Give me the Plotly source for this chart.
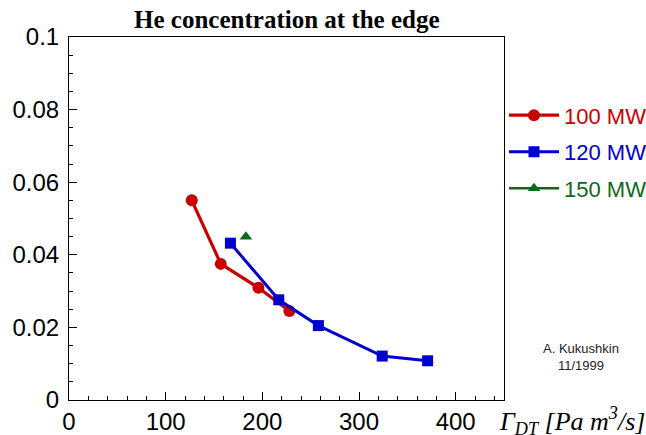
import plotly.graph_objects as go

# Data
x_100 = [127, 157, 196, 228]
y_100 = [0.0550, 0.0375, 0.0309, 0.0245]

x_120 = [167, 217, 258, 324, 371]
y_120 = [0.0432, 0.0276, 0.0205, 0.0121, 0.0108]

x_150 = [183]
y_150 = [0.0450]

series_names = ["100 MW", "120 MW", "150 MW"]
red = "#c80000"
blue = "#0000cc"
green = "#0a6a1a"

fig = go.Figure()
fig.add_trace(go.Scatter(
    x=x_100, y=y_100, mode="lines+markers",
    name=f"<span style='color:{red}'>{series_names[0]}</span>",
    legendgroup="a",
    line=dict(color=red, width=3.2),
    marker=dict(symbol="circle", size=12, color=red),
))
fig.add_trace(go.Scatter(
    x=x_120, y=y_120, mode="lines+markers",
    name=f"<span style='color:{blue}'>{series_names[1]}</span>",
    legendgroup="b",
    line=dict(color=blue, width=3),
    marker=dict(symbol="square", size=11, color=blue),
))
fig.add_trace(go.Scatter(
    x=x_150, y=y_150, mode="lines+markers",
    name=f"<span style='color:{green}'>{series_names[2]}</span>",
    legendgroup="c",
    line=dict(color=green, width=2.5),
    marker=dict(symbol="triangle-up", size=11, color=green),
))

tick_font = dict(family="Liberation Sans, Arial, Helvetica", size=24, color="black")

fig.update_layout(
    width=646, height=435,
    margin=dict(l=69, r=142, t=37, b=35, autoexpand=False),
    paper_bgcolor="white", plot_bgcolor="white",
    title=dict(
        text="<b>He concentration at the edge</b>",
        font=dict(family="Liberation Serif, Times New Roman, serif", size=25, color="black"),
        x=0.444, xanchor="center", y=0.955, yanchor="middle",
    ),
    showlegend=True,
    legend=dict(
        x=1.0, xanchor="left", y=0.842, yanchor="top",
        font=dict(family="Liberation Sans, Arial, Helvetica", size=22),
        bgcolor="rgba(0,0,0,0)",
        tracegroupgap=5,
        itemwidth=50,
    ),
    xaxis=dict(
        range=[0, 450],
        tickvals=[0, 100, 200, 300, 400],
        ticks="inside", ticklen=8, tickwidth=1, tickcolor="black",
        minor=dict(dtick=20, tick0=0, ticks="inside", ticklen=4, tickcolor="black"),
        showline=True, linecolor="black", linewidth=1, mirror=True,
        showgrid=False, zeroline=False, automargin=False,
        tickfont=tick_font,
    ),
    yaxis=dict(
        range=[0, 0.1], dtick=0.02, tick0=0,
        ticks="inside", ticklen=8, tickwidth=1, tickcolor="black",
        minor=dict(dtick=0.005, tick0=0, ticks="inside", ticklen=4, tickcolor="black"),
        showline=True, linecolor="black", linewidth=1, mirror=True,
        showgrid=False, zeroline=False, automargin=False,
        tickfont=tick_font,
        ticklabelstandoff=4,
    ),
    annotations=[
        dict(
            text="<i>Γ<sub>DT</sub> [Pa m<sup>3</sup>/s]</i>",
            xref="paper", yref="paper", x=1.0, y=0.0,
            xanchor="left", yanchor="top", xshift=-7, yshift=-1,
            showarrow=False,
            font=dict(family="Liberation Serif, Times New Roman, serif", size=26, color="black"),
        ),
        dict(
            text="A. Kukushkin<br>11/1999",
            xref="paper", yref="paper", x=1.0, y=(400 - 356.5) / 363,
            xanchor="center", yanchor="middle", xshift=77,
            showarrow=False,
            font=dict(family="Liberation Sans, Arial, Helvetica", size=13, color="#222222"),
        ),
    ],
)

fig.write_html("out.html")
